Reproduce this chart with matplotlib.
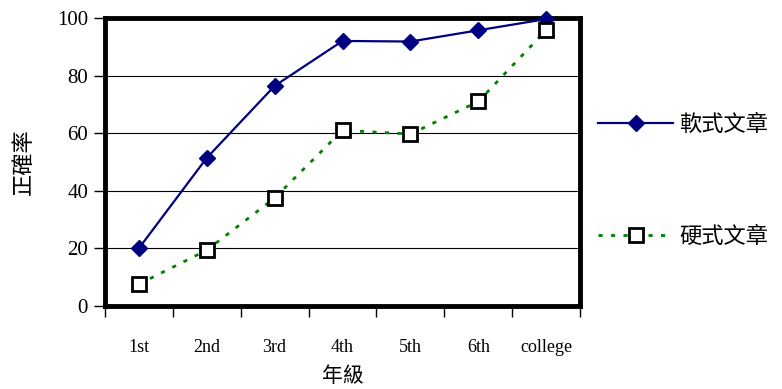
import matplotlib.pyplot as plt
import numpy as np

# datos
grados = ['1st', '2nd', '3rd', '4th', '5th', '6th', 'college']
suave = [20, 51.4, 76.4, 92, 91.8, 95.7, 99.6]    # 軟式文章
duro = [7.6, 19.4, 37.5, 61, 59.7, 71, 95.8]       # 硬式文章
yticks = [0, 20, 40, 60, 80, 100]

cjk = ['Noto Sans CJK TC', 'DejaVu Sans']
serif = 'Liberation Serif'

fig = plt.figure(figsize=(7.82, 3.89), dpi=100)
ax = fig.add_axes([0.134, 0.213, 0.608, 0.741])

x = np.arange(len(grados))
ax.plot(x, suave, color='#000080', lw=1.6, marker='D', ms=8,
        markerfacecolor='#000080', markeredgecolor='#000080', label='軟式文章',
        zorder=3, clip_on=False)
ax.plot(x, duro, color='#008000', lw=2, ls=(0, (1.5, 3)), marker='s', ms=10,
        markerfacecolor='white', markeredgecolor='black', markeredgewidth=2,
        label='硬式文章', zorder=3, clip_on=False)

ax.set_xlim(-0.5, len(grados) - 0.5)
ax.set_ylim(0, 100)
ax.set_yticks(yticks)
ax.set_yticklabels([str(v) for v in yticks], fontsize=15, family=serif)
for v in yticks[1:-1]:
    ax.axhline(v, color='black', lw=0.8, zorder=1)

ax.set_xticks(np.arange(-0.5, len(grados)), minor=False)
ax.set_xticklabels([])
ax.set_xticks(x, minor=True)
ax.set_xticklabels(grados, minor=True, fontsize=13, family=serif)
ax.tick_params(axis='x', which='major', length=8, width=1, direction='out')
ax.tick_params(axis='x', which='minor', length=0, pad=24)
ax.tick_params(axis='y', length=8, width=1, direction='out', pad=4)

for s in ax.spines.values():
    s.set_linewidth(3.5)

ax.set_xlabel('年級', family=cjk, fontsize=15, labelpad=6)
ax.set_ylabel('正確率', family=cjk, fontsize=16, labelpad=16)

ax.legend(loc='center left', bbox_to_anchor=(0.995, 0.436), frameon=False,
          prop={'family': cjk, 'size': 16}, handlelength=3.4, handletextpad=0.25,
          labelspacing=4.0)

fig.savefig('out.png', dpi=100)
